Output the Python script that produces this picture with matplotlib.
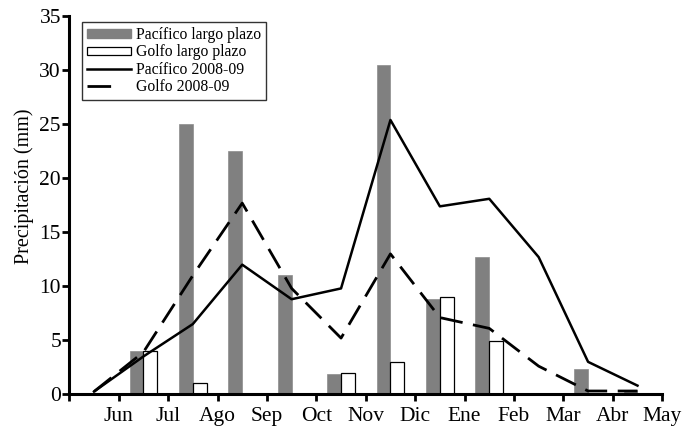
import numpy as np
import matplotlib
matplotlib.use("Agg")
import matplotlib.pyplot as plt
from matplotlib.lines import Line2D
from matplotlib.patches import Patch

# month labels sit on ticks 1..12, bars/lines sit between ticks
months = ["Jun", "Jul", "Ago", "Sep", "Oct", "Nov", "Dic", "Ene", "Feb", "Mar", "Abr", "May"]

# long-term means (bars)
pacifico_lp = [0, 4.0, 25.0, 22.5, 11.0, 1.9, 30.5, 8.8, 12.7, 0, 2.3, 0.4]
golfo_lp = [0, 4.0, 1.0, 0, 0, 2.0, 3.0, 9.0, 4.9, 0, 0, 0]

# 2008-09 season (lines)
pacifico_0809 = [0.25, 3.5, 6.5, 12.0, 8.8, 9.8, 25.4, 17.4, 18.1, 12.7, 3.0, 0.8]
golfo_0809 = [0.25, 3.9, 11.0, 17.7, 9.8, 5.2, 13.0, 7.1, 6.1, 2.6, 0.3, 0.3]

plt.rcParams["font.family"] = ["Liberation Serif", "DejaVu Serif"]

fig = plt.figure(figsize=(6.91, 4.29), dpi=100)
ax = fig.add_axes([0.1003, 0.081, 0.858, 0.881])

x = np.arange(len(months)) + 0.5
w = 0.28
ax.bar(x - w / 2, pacifico_lp, width=w, color="#808080", edgecolor="#8c8c8c",
       linewidth=0.5, zorder=2)
ax.bar(x + w / 2, golfo_lp, width=w, color="white", edgecolor="black",
       linewidth=0.9, zorder=2)
ax.plot(x, pacifico_0809, color="black", lw=1.8, zorder=3)
ax.plot(x, golfo_0809, color="black", lw=2.0, linestyle=(0, (8, 3.8)), zorder=3)

ax.set_xlim(0, 12)
ax.set_ylim(0, 35)
ax.set_xticks(range(13))
ax.set_xticklabels([""] + months, fontsize=15.5)
ax.set_yticks(range(0, 36, 5))
ax.tick_params(axis="y", labelsize=15.5, direction="out", length=5, width=2, pad=1)
ax.tick_params(axis="x", direction="out", length=5, width=2, pad=4)
ax.set_ylabel("Precipitación (mm)", fontsize=14.5)
ax.yaxis.set_label_coords(-0.060, 0.55)

for side in ["top", "right"]:
    ax.spines[side].set_visible(False)
for side in ["left", "bottom"]:
    ax.spines[side].set_linewidth(2.2)

handles = [
    Patch(facecolor="#808080", edgecolor="#808080"),
    Patch(facecolor="white", edgecolor="black", linewidth=0.9),
    Line2D([], [], color="black", lw=1.8),
    Line2D([], [], color="black", lw=2.0, linestyle=(0.5, (9, 20))),
]
labels = ["Pacífico largo plazo", "Golfo largo plazo", "Pacífico 2008-09", "Golfo 2008-09"]
leg = ax.legend(handles, labels, loc="upper left", bbox_to_anchor=(0.022, 0.984),
                fontsize=11.3, frameon=True, fancybox=False, edgecolor="black",
                handlelength=2.8, handleheight=0.45, handletextpad=0.3,
                labelspacing=0.08, borderpad=0.3, borderaxespad=0)
leg.get_frame().set_linewidth(1.0)

fig.savefig("out.png", dpi=100)
